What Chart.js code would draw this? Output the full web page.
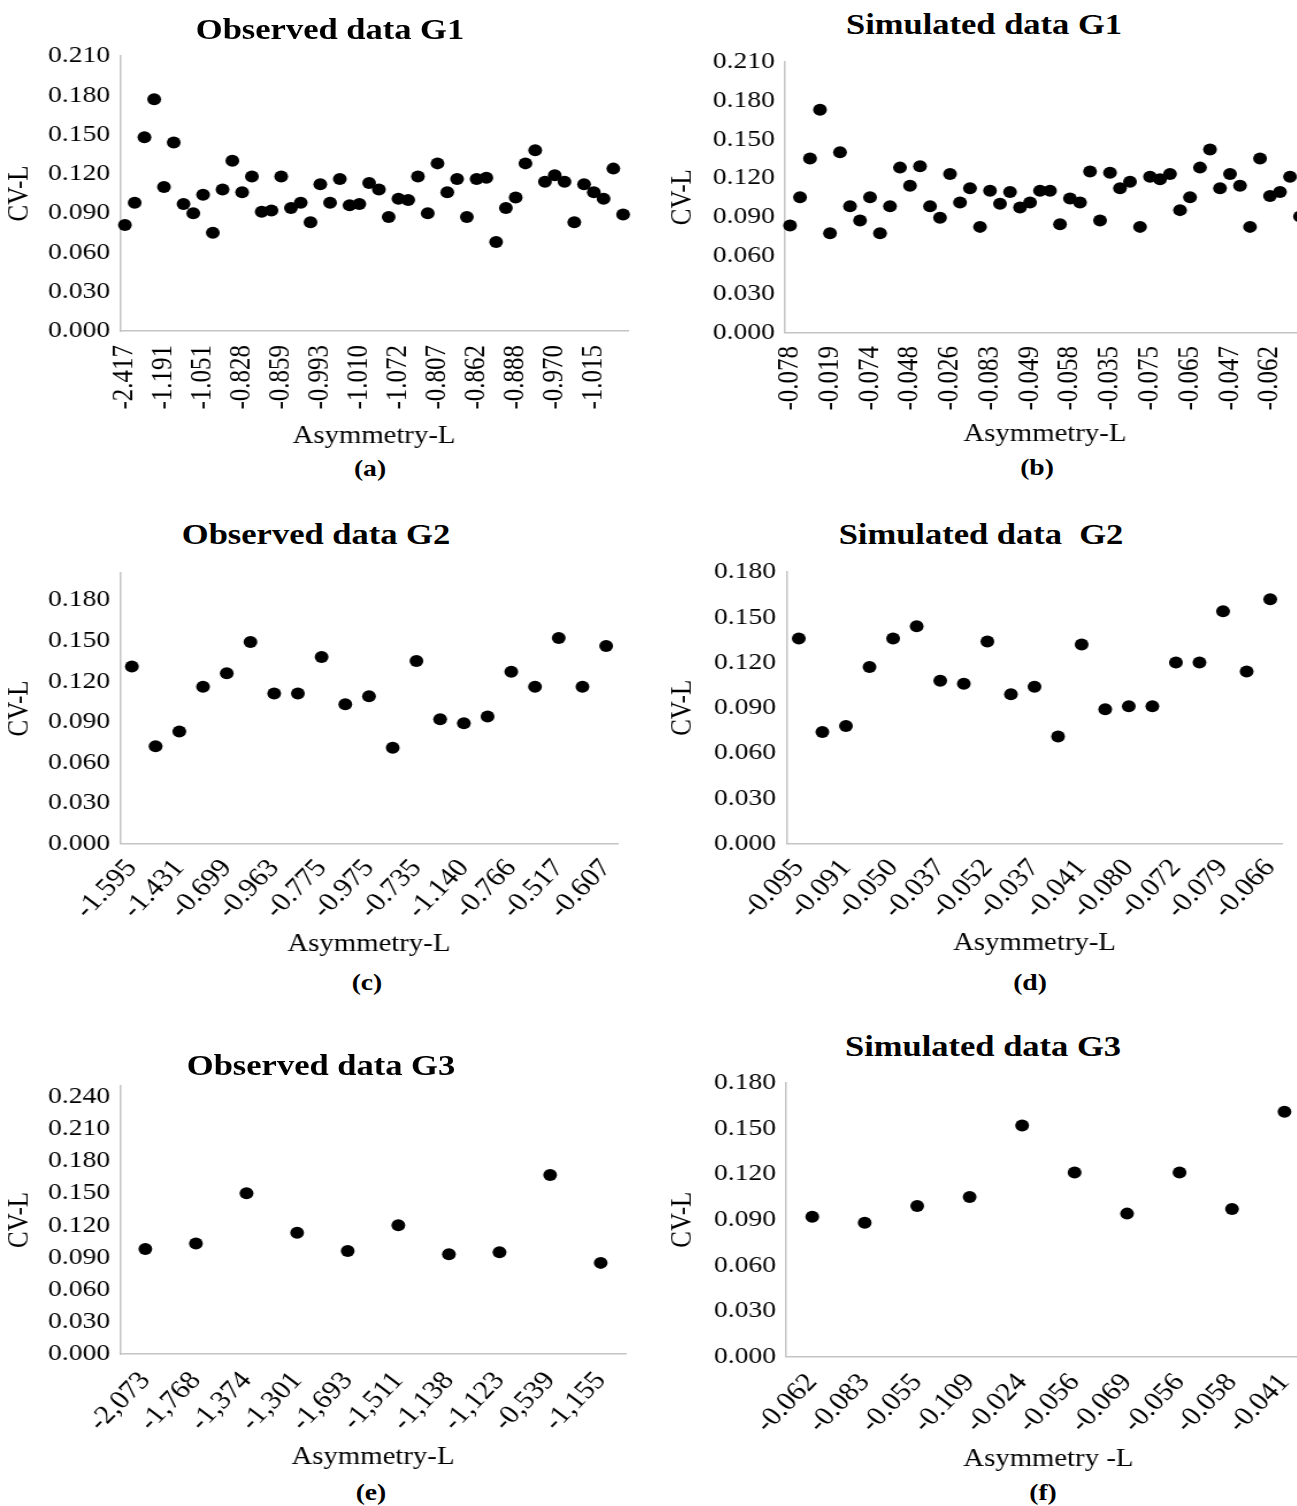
<!DOCTYPE html>
<html>
<head>
<meta charset="utf-8">
<script src="https://cdn.jsdelivr.net/npm/chart.js@4.4.1/dist/chart.umd.min.js"></script>
<style>
html, body { margin:0; padding:0; background:#fff; overflow:hidden; }
body { width:1297px; height:1506px; position:relative; }
canvas { position:absolute; transform-origin:0 0; }
.txt { position:absolute; white-space:pre; line-height:1; color:#000;
       font-family:'Liberation Serif','Times New Roman',serif; transform:translate(-50%,-50%) scaleX(1.15); }
</style>
</head>
<body>
<script>
// ---------- data ----------
const obsG1TickLabels = ['-2.417','-1.191','-1.051','-0.828','-0.859','-0.993','-1.010','-1.072','-0.807','-0.862','-0.888','-0.970','-1.015'];
const obsG1Values = [0.081,0.098,0.148,0.177,0.110,0.144,0.097,0.090,0.104,0.075,
                     0.108,0.130,0.106,0.118,0.091,0.092,0.118,0.094,0.098,0.083,
                     0.112,0.098,0.116,0.096,0.097,0.113,0.108,0.087,0.101,0.100,
                     0.118,0.090,0.128,0.106,0.116,0.087,0.116,0.117,0.068,0.094,
                     0.102,0.128,0.138,0.114,0.119,0.114,0.083,0.112,0.106,0.101,
                     0.124,0.089];
const simG1TickLabels = ['-0.078','-0.019','-0.074','-0.048','-0.026','-0.083','-0.049','-0.058','-0.035','-0.075','-0.065','-0.047','-0.062'];
const simG1Values = [0.083,0.105,0.135,0.173,0.077,0.140,0.098,0.087,0.105,0.077,
                     0.098,0.128,0.114,0.129,0.098,0.089,0.123,0.101,0.112,0.082,
                     0.110,0.100,0.109,0.097,0.101,0.110,0.110,0.084,0.104,0.101,
                     0.125,0.087,0.124,0.112,0.117,0.082,0.121,0.119,0.123,0.095,
                     0.105,0.128,0.142,0.112,0.123,0.114,0.082,0.135,0.106,0.109,
                     0.121,0.090];
const obsG2TickLabels = ['-1.595','-1.431','-0.699','-0.963','-0.775','-0.975','-0.735','-1.140','-0.766','-0.517','-0.607'];
const obsG2Values = [0.131,0.072,0.083,0.116,0.126,0.149,0.111,0.111,0.138,0.103,0.109,
                     0.071,0.135,0.092,0.089,0.094,0.127,0.116,0.152,0.116,0.146];
const simG2TickLabels = ['-0.095','-0.091','-0.050','-0.037','-0.052','-0.037','-0.041','-0.080','-0.072','-0.079','-0.066'];
const simG2Values = [0.136,0.074,0.078,0.117,0.136,0.144,0.108,0.106,0.134,0.099,0.104,
                     0.071,0.132,0.089,0.091,0.091,0.120,0.120,0.154,0.114,0.162];
const obsG3TickLabels = ['-2,073','-1,768','-1,374','-1,301','-1,693','-1,511','-1,138','-1,123','-0,539','-1,155'];
const obsG3Values = [0.098,0.103,0.150,0.113,0.096,0.120,0.093,0.095,0.167,0.085];
const simG3TickLabels = ['-0.062','-0.083','-0.055','-0.109','-0.024','-0.056','-0.069','-0.056','-0.058','-0.041'];
const simG3Values = [0.092,0.088,0.099,0.105,0.152,0.121,0.094,0.121,0.097,0.161];

const yTicks021 = ['0.000','0.030','0.060','0.090','0.120','0.150','0.180','0.210'];
const yTicks018 = ['0.000','0.030','0.060','0.090','0.120','0.150','0.180'];
const yTicks024 = ['0.000','0.030','0.060','0.090','0.120','0.150','0.180','0.210','0.240'];

// ---------- drawing ----------
const S = 1.15;                // horizontal stretch of the reference figure
const TITLE_SIZE = 30, CAP_SIZE = 24, AXIS_TITLE_SIZE = 25, YTICK_SIZE = 24;
Chart.defaults.font.family = "'Liberation Serif','Times New Roman',serif";
Chart.defaults.color = '#000';

function addText(txt, x, y, size, bold) {
  const d = document.createElement('div');
  d.className = 'txt';
  d.textContent = txt;
  d.style.left = x + 'px';
  d.style.top = y + 'px';
  d.style.fontSize = size + 'px';
  d.style.fontWeight = bold ? 'bold' : 'normal';
  document.body.appendChild(d);
}

function makePanel(p) {
  const padTop = 16, padRight = 12;
  const lhX = AXIS_TITLE_SIZE * 1.2;
  const xBottom = p.xTitleY + lhX / 2 + 2;
  const canvasTop = p.T - padTop;
  const plotRightU = (p.R - p.canvasL) / S;
  const wU = Math.ceil(plotRightU + padRight);
  const h = Math.ceil(xBottom - canvasTop);
  const c = document.createElement('canvas');
  c.width = wU; c.height = h;
  c.style.width = wU + 'px'; c.style.height = h + 'px';
  c.style.left = p.canvasL + 'px'; c.style.top = canvasTop + 'px';
  c.style.transform = 'scaleX(' + S + ')';
  document.body.appendChild(c);

  const labels = p.values.map((v, i) => (i % p.step === 0 ? p.tickLabels[i / p.step] : ''));
  const yVals = p.yTicks.map(Number);
  const border = { display: true, color: '#c4c4c4', width: 1.5 };

  new Chart(c, {
    type: 'line',
    data: {
      labels: labels,
      datasets: [{
        data: p.values, showLine: false,
        pointRadius: 6, pointHoverRadius: 6, pointBorderWidth: 0,
        pointBackgroundColor: '#000', pointBorderColor: '#000'
      }]
    },
    options: {
      responsive: false, animation: false, events: [], devicePixelRatio: 1,
      layout: { padding: { left: 0, top: padTop, right: wU - plotRightU, bottom: h - (xBottom - canvasTop) } },
      plugins: { legend: { display: false }, tooltip: { enabled: false } },
      scales: {
        x: {
          type: 'category', offset: true,
          grid: { display: false, drawTicks: false }, border: border,
          ticks: { autoSkip: false, minRotation: p.rot, maxRotation: p.rot,
                   padding: p.xTickTop - p.B, font: { size: p.xTickSize }, color: '#000' },
          title: { display: true, text: p.xTitle, font: { size: AXIS_TITLE_SIZE }, color: '#000',
                   padding: { top: 0, bottom: 2 } },
          afterFit: s => { s.height = xBottom - p.B; s.paddingLeft = 0; s.paddingRight = 0; s.paddingTop = 0; s.paddingBottom = 0; }
        },
        y: {
          type: 'linear', min: 0, max: p.ymax,
          grid: { display: false, drawTicks: false }, border: border,
          afterBuildTicks: s => { s.ticks = yVals.map(v => ({ value: v })); },
          ticks: { padding: (p.L - p.yLabelRight) / S, font: { size: YTICK_SIZE }, color: '#000',
                   callback: (v, i) => p.yTicks[i] },
          title: { display: true, text: 'CV-L', font: { size: AXIS_TITLE_SIZE }, color: '#000',
                   padding: { top: (p.cvX - p.canvasL) / S - lhX / 2, bottom: 0 } },
          afterFit: s => { s.width = (p.L - p.canvasL) / S; s.paddingLeft = 0; s.paddingRight = 0; s.paddingTop = 0; s.paddingBottom = 0; }
        }
      }
    }
  });

  addText(p.title, p.titleX, p.titleY, TITLE_SIZE, true);
  addText(p.caption, p.capX, p.capY, CAP_SIZE, true);
}

const panels = [
  { title: 'Observed data G1', caption: '(a)', xTitle: 'Asymmetry-L', values: obsG1Values, tickLabels: obsG1TickLabels, step: 4,
    yTicks: yTicks021, ymax: 0.21, rot: 90, xTickSize: 25,
    canvasL: 0, L: 120, R: 628, T: 56, B: 331, xTickTop: 345, xTitleY: 436, cvX: 20, yLabelRight: 110,
    titleX: 330, titleY: 29, capX: 370, capY: 468 },
  { title: 'Simulated data G1', caption: '(b)', xTitle: 'Asymmetry-L', values: simG1Values, tickLabels: simG1TickLabels, step: 4,
    yTicks: yTicks021, ymax: 0.21, rot: 90, xTickSize: 25,
    canvasL: 655, L: 785, R: 1305, T: 62, B: 332.5, xTickTop: 346, xTitleY: 434, cvX: 683, yLabelRight: 775,
    titleX: 984, titleY: 24, capX: 1037, capY: 467 },
  { title: 'Observed data G2', caption: '(c)', xTitle: 'Asymmetry-L', values: obsG2Values, tickLabels: obsG2TickLabels, step: 2,
    yTicks: yTicks018, ymax: 0.2, rot: 49, xTickSize: 26,
    canvasL: 0, L: 120, R: 618, T: 572.5, B: 843.3, xTickTop: 853, xTitleY: 944, cvX: 20, yLabelRight: 110,
    titleX: 316, titleY: 534, capX: 367, capY: 982 },
  { title: 'Simulated data  G2', caption: '(d)', xTitle: 'Asymmetry-L', values: simG2Values, tickLabels: simG2TickLabels, step: 2,
    yTicks: yTicks018, ymax: 0.18, rot: 49, xTickSize: 26,
    canvasL: 655, L: 787, R: 1282, T: 571.7, B: 843.3, xTickTop: 853, xTitleY: 943, cvX: 683, yLabelRight: 776,
    titleX: 981, titleY: 534, capX: 1030, capY: 982 },
  { title: 'Observed data G3', caption: '(e)', xTitle: 'Asymmetry-L', values: obsG3Values, tickLabels: obsG3TickLabels, step: 1,
    yTicks: yTicks024, ymax: 0.25, rot: 49, xTickSize: 26,
    canvasL: 0, L: 120, R: 626, T: 1086, B: 1354, xTickTop: 1366, xTitleY: 1457, cvX: 20, yLabelRight: 110,
    titleX: 321, titleY: 1065, capX: 371, capY: 1492 },
  { title: 'Simulated data G3', caption: '(f)', xTitle: 'Asymmetry -L', values: simG3Values, tickLabels: simG3TickLabels, step: 1,
    yTicks: yTicks018, ymax: 0.18, rot: 49, xTickSize: 26,
    canvasL: 655, L: 786, R: 1310.7, T: 1083.3, B: 1356.7, xTickTop: 1368, xTitleY: 1460, cvX: 683, yLabelRight: 776,
    titleX: 983, titleY: 1046, capX: 1043, capY: 1492 }
];

panels.forEach(makePanel);
</script>
</body>
</html>
